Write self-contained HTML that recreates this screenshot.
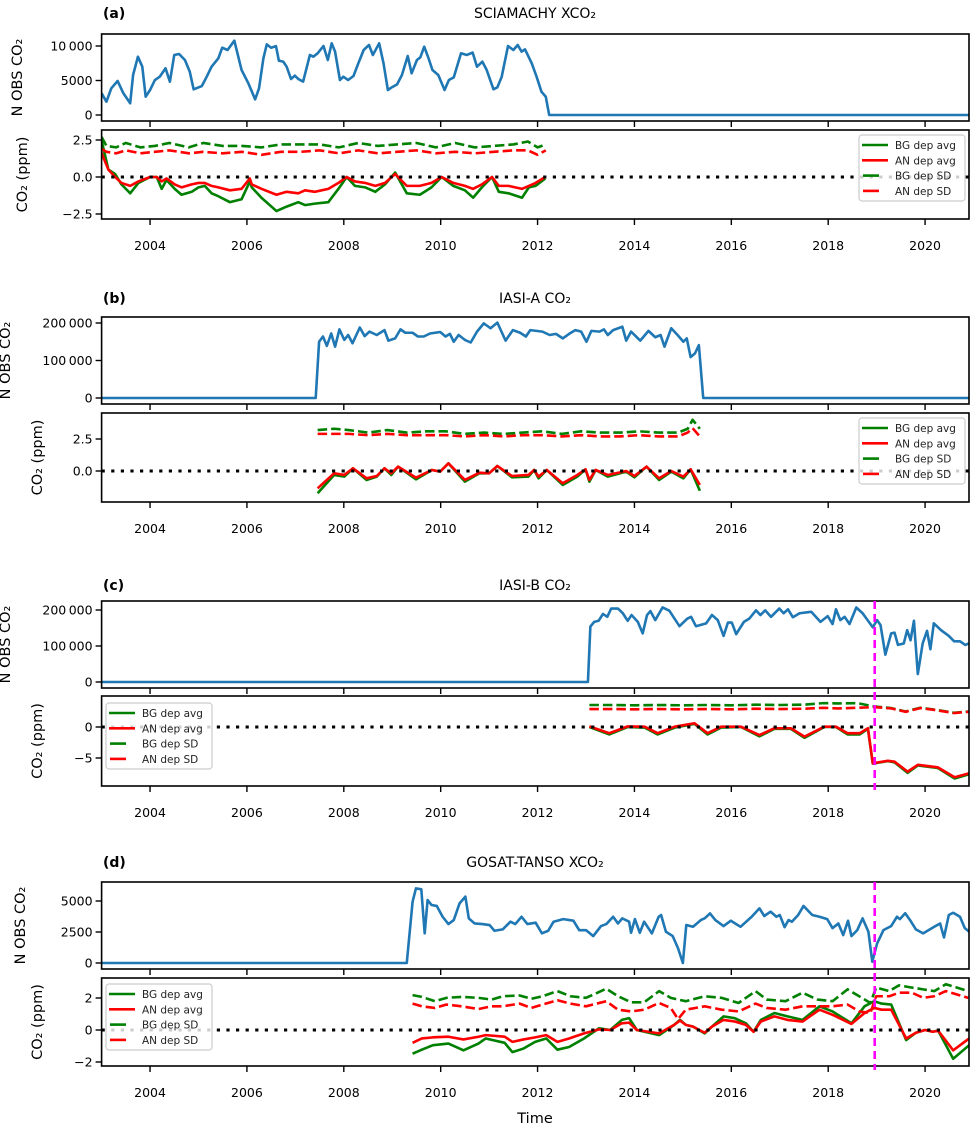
<!DOCTYPE html>
<html><head><meta charset="utf-8"><style>
html,body{margin:0;padding:0;background:#fff;}
svg{display:block;font-family:"DejaVu Sans","Liberation Sans",sans-serif;}
</style></head><body>
<svg id="fig" width="972" height="1125" viewBox="0 0 972 1125" xmlns="http://www.w3.org/2000/svg"></svg>
<script>
// ---------- data ----------
const yearTicks = [2004,2006,2008,2010,2012,2014,2016,2018,2020];
const panelLetters = ["(a)","(b)","(c)","(d)"];
const panelTitles = ["SCIAMACHY XCO₂","IASI-A CO₂","IASI-B CO₂","GOSAT-TANSO XCO₂"];
const legendLabels = ["BG dep avg","AN dep avg","BG dep SD","AN dep SD"];

// (a) SCIAMACHY
const aObsT = [2003.0,2003.1,2003.2,2003.33,2003.45,2003.59,2003.65,2003.75,2003.84,2003.91,2004.0,2004.1,2004.2,2004.32,2004.41,2004.5,2004.6,2004.72,2004.82,2004.9,2005.07,2005.17,2005.27,2005.41,2005.49,2005.6,2005.74,2005.89,2006.03,2006.17,2006.25,2006.34,2006.41,2006.5,2006.6,2006.66,2006.75,2006.82,2006.91,2006.99,2007.06,2007.16,2007.3,2007.37,2007.46,2007.58,2007.67,2007.75,2007.82,2007.92,2007.99,2008.09,2008.2,2008.3,2008.41,2008.52,2008.6,2008.73,2008.82,2008.91,2008.99,2009.1,2009.2,2009.32,2009.4,2009.51,2009.58,2009.66,2009.75,2009.83,2009.95,2010.08,2010.17,2010.27,2010.42,2010.54,2010.66,2010.75,2010.86,2010.95,2011.09,2011.17,2011.26,2011.39,2011.5,2011.59,2011.67,2011.74,2011.88,2011.98,2012.08,2012.17,2012.24,2021.0];
const aObsV = [3150,1930,3870,4930,3150,1700,5800,8450,7000,2650,3620,5070,5550,6770,4830,8700,8840,7970,6280,3720,4200,5550,7000,8210,9750,9420,10770,6520,4590,2270,3870,8210,10240,9750,9990,7870,7730,7000,5220,5700,5220,4830,8700,8450,8940,10000,7970,10390,9180,5070,5550,5070,5650,7490,9420,10150,8700,10390,7490,3620,4010,4440,5800,8550,6040,7970,8360,9900,8210,6520,5800,3620,5070,5460,8940,8700,9040,7000,7730,6520,3720,4010,5550,10000,9420,10150,9180,9520,7490,5550,3380,2650,0,0];
const aAvgT = [2002.99,2003.14,2003.28,2003.41,2003.59,2003.76,2004.0,2004.14,2004.24,2004.34,2004.51,2004.65,2004.86,2005.0,2005.13,2005.27,2005.41,2005.65,2005.89,2006.06,2006.1,2006.3,2006.61,2006.82,2007.06,2007.2,2007.4,2007.68,2007.89,2008.06,2008.23,2008.44,2008.65,2008.85,2009.06,2009.3,2009.57,2009.81,2010.02,2010.26,2010.5,2010.67,2010.85,2011.06,2011.2,2011.4,2011.68,2011.82,2011.96,2012.16];
const aBgAvg = [2.6,0.5,0.2,-0.5,-1.1,-0.4,0,0,-0.8,-0.2,-0.8,-1.2,-1.0,-0.7,-0.6,-1.1,-1.3,-1.7,-1.5,-0.3,-0.7,-1.4,-2.3,-2.0,-1.7,-1.9,-1.8,-1.7,-0.8,0,-0.6,-0.7,-1.0,-0.5,0.3,-1.1,-1.2,-0.7,0,-0.6,-0.9,-1.4,-0.7,0,-1.0,-1.1,-1.4,-0.7,-0.6,-0.1];
const aAnAvg = [1.7,0.5,0,-0.4,-0.6,-0.3,0,0,-0.3,-0.1,-0.5,-0.7,-0.5,-0.4,-0.4,-0.6,-0.7,-0.9,-0.8,-0.1,-0.5,-0.8,-1.2,-1.0,-1.1,-0.9,-1.0,-0.8,-0.4,0,-0.3,-0.4,-0.6,-0.4,0.2,-0.6,-0.6,-0.4,0,-0.4,-0.6,-0.8,-0.5,0,-0.6,-0.6,-0.8,-0.6,-0.4,0];
const aSdT = [2003.0,2003.1,2003.3,2003.5,2003.8,2004.1,2004.4,2004.8,2005.1,2005.5,2005.9,2006.3,2006.7,2007.1,2007.5,2007.9,2008.3,2008.7,2009.1,2009.5,2009.9,2010.3,2010.7,2011.1,2011.5,2011.8,2012.0,2012.17];
const aBgSd = [2.7,2.1,2.0,2.3,2.0,2.1,2.3,2.0,2.3,2.1,2.1,2.0,2.2,2.2,2.2,2.0,2.3,2.1,2.2,2.3,2.0,2.3,2.0,2.1,2.2,2.4,2.0,2.2];
const aAnSd = [1.9,1.7,1.6,1.8,1.6,1.7,1.8,1.6,1.7,1.6,1.7,1.5,1.7,1.7,1.8,1.6,1.8,1.6,1.7,1.8,1.6,1.7,1.6,1.7,1.8,1.8,1.5,1.8];

// (b) IASI-A
const bObsT = [2003.0,2007.42,2007.49,2007.57,2007.65,2007.74,2007.82,2007.91,2008.01,2008.09,2008.18,2008.33,2008.43,2008.53,2008.68,2008.84,2008.92,2009.06,2009.17,2009.27,2009.42,2009.53,2009.65,2009.78,2009.99,2010.1,2010.19,2010.27,2010.37,2010.5,2010.62,2010.75,2010.89,2011.03,2011.17,2011.34,2011.49,2011.64,2011.76,2011.85,2012.1,2012.25,2012.38,2012.52,2012.65,2012.78,2012.9,2013.01,2013.11,2013.28,2013.37,2013.45,2013.56,2013.75,2013.83,2013.93,2014.12,2014.29,2014.43,2014.54,2014.62,2014.76,2014.89,2015.01,2015.08,2015.16,2015.25,2015.33,2015.42,2021.0];
const bObsV = [0,0,150000,164000,139000,172000,137000,183000,155000,168000,146000,188000,165000,177000,168000,181000,153000,159000,183000,174000,174000,164000,164000,172000,176000,164000,171000,150000,168000,155000,148000,177000,199000,186000,201000,153000,181000,174000,164000,181000,177000,168000,171000,159000,171000,181000,177000,150000,179000,177000,183000,168000,181000,190000,153000,177000,153000,179000,162000,168000,137000,186000,168000,150000,159000,109000,119000,141000,0,0];
const bAvgT = [2007.46,2007.8,2008.01,2008.19,2008.47,2008.68,2008.84,2008.98,2009.12,2009.49,2009.82,2009.99,2010.16,2010.5,2010.8,2011.0,2011.17,2011.47,2011.81,2011.93,2012.02,2012.19,2012.52,2012.82,2012.99,2013.07,2013.2,2013.45,2013.83,2014.0,2014.25,2014.51,2014.76,2015.01,2015.16,2015.35];
const bBgAvg = [-1.74,-0.31,-0.44,0.21,-0.70,-0.44,0.21,-0.31,0.34,-0.65,0.08,-0.05,0.60,-0.83,-0.18,-0.18,0.39,-0.49,-0.44,0.08,-0.57,0.08,-1.09,-0.44,0.13,-0.83,0.08,-0.44,-0.05,-0.49,0.34,-0.70,-0.05,-0.57,0.13,-1.54];
const bAnAvg = [-1.35,-0.18,-0.31,0.21,-0.57,-0.39,0.21,-0.18,0.34,-0.52,0.08,-0.05,0.60,-0.70,-0.13,-0.18,0.39,-0.39,-0.31,0.08,-0.44,0.08,-0.96,-0.31,0.13,-0.70,0.08,-0.31,0,-0.39,0.34,-0.57,0,-0.44,0.13,-1.09];
const bSdT = [2007.46,2007.8,2008.1,2008.5,2008.9,2009.3,2009.7,2010.1,2010.5,2010.9,2011.3,2011.7,2012.1,2012.5,2012.9,2013.3,2013.7,2014.1,2014.5,2014.9,2015.1,2015.2,2015.35];
const bBgSd = [3.2,3.3,3.2,3.0,3.2,3.0,3.1,3.1,2.9,3.0,2.9,3.0,3.1,2.9,3.1,3.0,3.0,3.1,3.0,3.0,3.3,4.0,3.3];
const bAnSd = [2.9,2.9,2.9,2.8,2.9,2.8,2.8,2.8,2.7,2.8,2.7,2.8,2.8,2.7,2.8,2.7,2.7,2.8,2.7,2.7,3.0,3.35,2.7];

// (c) IASI-B
const cObsT = [2003.0,2013.04,2013.09,2013.17,2013.26,2013.35,2013.44,2013.52,2013.66,2013.76,2013.86,2013.94,2014.07,2014.17,2014.26,2014.33,2014.43,2014.58,2014.72,2014.93,2015.09,2015.17,2015.27,2015.48,2015.6,2015.72,2015.84,2015.93,2016.01,2016.1,2016.26,2016.37,2016.51,2016.6,2016.7,2016.82,2016.99,2017.08,2017.17,2017.27,2017.41,2017.65,2017.84,2017.99,2018.09,2018.16,2018.25,2018.34,2018.44,2018.58,2018.71,2018.92,2019.01,2019.08,2019.18,2019.3,2019.37,2019.44,2019.56,2019.63,2019.7,2019.77,2019.85,2019.95,2020.04,2020.11,2020.18,2020.33,2020.49,2020.6,2020.72,2020.83,2020.9];
const cObsV = [0,0,154000,167000,170000,189000,181000,204000,204000,191000,170000,186000,167000,135000,186000,197000,172000,207000,198000,155000,176000,181000,155000,163000,186000,172000,128000,165000,165000,133000,167000,176000,199000,186000,199000,181000,204000,191000,202000,180000,191000,195000,167000,183000,161000,202000,172000,181000,161000,207000,191000,152000,172000,158000,76000,135000,137000,103000,107000,144000,116000,170000,22000,107000,142000,91000,163000,144000,128000,113000,113000,103000,107000];
const cAvgT = [2013.07,2013.48,2013.86,2014.21,2014.48,2014.83,2015.24,2015.51,2015.79,2016.2,2016.58,2016.89,2017.23,2017.51,2017.92,2018.16,2018.4,2018.65,2018.82,2018.92,2019.23,2019.37,2019.64,2019.85,2020.26,2020.61,2020.92];
const cBgAvg = [0.0,-1.2,0.0,-0.1,-1.2,-0.1,0.5,-1.2,-0.1,0.0,-1.5,-0.3,-0.3,-1.75,0.0,0.0,-1.2,-1.2,-0.3,-5.9,-5.5,-5.7,-7.4,-6.2,-6.6,-8.3,-7.6];
const cAnAvg = [0.1,-1.0,0.1,0.05,-1.0,0.05,0.6,-1.0,0.05,0.05,-1.3,-0.2,-0.2,-1.55,0.05,0.05,-1.0,-1.0,-0.2,-5.85,-5.45,-5.6,-7.2,-6.1,-6.5,-8.1,-7.45];
const cSdT = [2013.07,2013.5,2014.0,2014.5,2015.0,2015.5,2016.0,2016.5,2017.0,2017.5,2017.9,2018.2,2018.6,2018.96,2019.3,2019.6,2019.9,2020.2,2020.6,2020.9];
const cBgSd = [3.55,3.55,3.5,3.55,3.5,3.55,3.5,3.6,3.55,3.6,3.85,3.8,3.85,3.3,3.05,2.5,3.1,2.8,2.3,2.5];
const cAnSd = [2.9,2.9,2.85,2.9,2.85,2.9,2.85,2.95,2.9,2.95,3.1,3.0,3.1,3.2,3.0,2.45,3.05,2.75,2.25,2.45];
const cMarkYear = [2018.96];

// (d) GOSAT-TANSO
const dObsT = [2003.0,2009.3,2009.42,2009.49,2009.6,2009.67,2009.73,2009.81,2009.92,2010.04,2010.16,2010.27,2010.39,2010.51,2010.58,2010.7,2010.86,2011.01,2011.11,2011.28,2011.44,2011.54,2011.67,2011.79,2011.96,2012.09,2012.22,2012.33,2012.53,2012.74,2012.86,2013.0,2013.15,2013.31,2013.42,2013.56,2013.66,2013.75,2013.89,2013.93,2014.01,2014.11,2014.2,2014.36,2014.5,2014.55,2014.65,2014.79,2014.9,2015.0,2015.07,2015.21,2015.37,2015.45,2015.56,2015.67,2015.84,2015.99,2016.19,2016.42,2016.58,2016.68,2016.81,2016.93,2017.0,2017.1,2017.18,2017.25,2017.38,2017.49,2017.67,2017.82,2017.98,2018.09,2018.21,2018.31,2018.41,2018.48,2018.6,2018.71,2018.83,2018.91,2019.01,2019.14,2019.3,2019.42,2019.48,2019.59,2019.69,2019.81,2019.96,2020.19,2020.31,2020.39,2020.49,2020.58,2020.72,2020.82,2020.91];
const dObsV = [0,0,4940,6020,5940,2390,5080,4680,4600,3730,3140,3460,4810,5350,3600,3190,3140,3060,2600,2710,3330,3140,3730,3140,3250,2390,2600,3330,3540,3410,2650,2650,2170,2980,3140,3730,3190,3600,3330,2440,3540,2440,3330,2390,3730,3870,2520,2170,1190,0,3060,2920,3460,3600,4000,3460,2980,3410,2920,3730,4410,3790,4140,3730,3870,2890,3460,3330,3870,4600,3870,3730,3540,2810,3190,2250,3410,2170,2650,3600,2520,100,1580,2650,2980,3730,3540,4010,3460,2710,2390,2920,3190,2060,3870,4050,3730,2810,2520];
const dAvgT = [2009.42,2009.61,2009.84,2010.16,2010.47,2010.78,2010.93,2011.32,2011.48,2011.71,2011.95,2012.18,2012.41,2012.65,2012.96,2013.27,2013.5,2013.74,2013.89,2014.05,2014.51,2014.82,2014.94,2015.06,2015.21,2015.45,2015.6,2015.84,2016.07,2016.3,2016.46,2016.61,2016.89,2017.16,2017.47,2017.82,2018.09,2018.48,2018.75,2018.95,2019.1,2019.3,2019.61,2019.81,2020.0,2020.16,2020.27,2020.58,2020.91];
const dBgAvg = [-1.48,-1.23,-0.95,-0.85,-1.27,-0.85,-0.53,-0.80,-1.38,-1.16,-0.74,-0.53,-1.23,-1.06,-0.53,0.11,0,0.63,0.74,0,-0.32,0.32,0.63,0.32,0.21,-0.21,0.21,0.85,0.74,0.42,-0.11,0.63,1.06,0.85,0.63,1.48,1.16,0.42,1.48,1.80,1.65,1.59,-0.63,-0.17,0,-0.11,-0.04,-1.80,-0.95];
const dAnAvg = [-0.80,-0.53,-0.46,-0.42,-0.59,-0.42,-0.32,-0.42,-0.74,-0.59,-0.46,-0.32,-0.74,-0.53,-0.21,0.04,0,0.42,0.46,0,-0.21,0.32,0.59,0.32,0.21,-0.17,0.21,0.63,0.53,0.32,-0.11,0.53,0.85,0.63,0.53,1.27,0.95,0.38,1.06,1.38,1.27,1.27,-0.53,-0.17,0,-0.11,-0.04,-1.27,-0.53];
const dSdT = [2009.42,2009.61,2009.88,2010.12,2010.43,2010.78,2011.05,2011.28,2011.63,2011.87,2012.1,2012.41,2012.68,2013.0,2013.42,2013.66,2013.93,2014.2,2014.51,2014.75,2014.9,2015.06,2015.45,2015.8,2016.15,2016.5,2016.73,2017.12,2017.47,2017.78,2018.09,2018.4,2018.64,2018.87,2018.99,2019.26,2019.46,2019.73,2019.96,2020.19,2020.43,2020.66,2020.89];
const dBgSd = [2.18,2.07,1.80,2.01,2.07,2.01,1.90,2.11,2.16,1.95,2.11,2.43,2.11,2.01,2.58,2.11,1.73,1.73,2.43,2.01,1.90,1.80,2.11,2.01,1.69,2.43,1.90,1.80,2.33,1.90,1.80,2.54,2.11,1.69,2.65,2.43,2.79,2.65,2.54,2.43,2.86,2.65,2.43];
const dAnSd = [1.65,1.48,1.38,1.59,1.48,1.31,1.48,1.48,1.65,1.38,1.59,1.86,1.65,1.48,1.80,1.27,1.16,1.27,1.69,1.38,0.68,1.27,1.48,1.27,1.16,1.65,1.38,1.27,1.48,1.48,1.48,1.59,1.16,1.06,2.11,2.11,2.33,2.33,2.01,2.11,2.43,2.22,2.01];
const dMarkYear = [2018.96];

// y tick values / labels
const aTopTicks = [0,5000,10000], aTopLabels = ["0","5000","10\u2009000"];
const aBotTicks = [-2.5,0,2.5], aBotLabels = ["\u22122.5","0.0","2.5"];
const bTopTicks = [0,100000,200000], bTopLabels = ["0","100\u2009000","200\u2009000"];
const bBotTicks = [0,2.5], bBotLabels = ["0.0","2.5"];
const cTopTicks = [0,100000,200000], cTopLabels = ["0","100\u2009000","200\u2009000"];
const cBotTicks = [-5,0], cBotLabels = ["\u22125","0"];
const dTopTicks = [0,2500,5000], dTopLabels = ["0","2500","5000"];
const dBotTicks = [-2,0,2], dBotLabels = ["\u22122","0","2"];

// ---------- drawing ----------
const NS = "http://www.w3.org/2000/svg";
const svg = document.getElementById("fig");
const X0 = 101.6, X1 = 969, YPX = 48.44;
function xs(yr){ return X0 + (yr - 2003) * YPX; }
function el(tag, attrs, parent){
  const e = document.createElementNS(NS, tag);
  for (const k in attrs) e.setAttribute(k, attrs[k]);
  (parent || svg).appendChild(e);
  return e;
}
function linScale(v0, p0, v1, p1){ return v => p0 + (v - v0) * (p1 - p0) / (v1 - v0); }

let clipId = 0;
function makeAxes(name, top, bottom){
  const g = el("g", {});
  
  
  const id = "clip" + (clipId++);
  const cp = el("clipPath", {id: id}, g);
  el("rect", {x: X0, y: top, width: X1 - X0, height: bottom - top}, cp);
  const plot = el("g", {"clip-path": "url(#" + id + ")"}, g);
  return {g, plot, top, bottom};
}
function drawFrame(ax, name){
  const r = el("rect", {x: X0, y: ax.top, width: X1 - X0, height: ax.bottom - ax.top, fill: "none", stroke: "#000", "stroke-width": 1.6}, ax.g);
  
  
}
function xTicks(ax, withLabels, name){
  const g = el("g", {}, ax.g);
  
  
  yearTicks.forEach(yr => {
    const x = xs(yr);
    el("line", {x1: x, x2: x, y1: ax.bottom, y2: ax.bottom + 6, stroke: "#000", "stroke-width": 1.4}, g);
    if (withLabels){
      const t = el("text", {x: x, y: ax.bottom + 31, "text-anchor": "middle", "font-size": 12.5, fill: "#000"}, g);
      t.textContent = String(yr);
    }
  });
}
function yTicks(ax, sc, ticks, labels, name){
  const g = el("g", {}, ax.g);
  
  
  ticks.forEach((v, i) => {
    const y = sc(v);
    el("line", {x1: X0 - 6, x2: X0, y1: y, y2: y, stroke: "#000", "stroke-width": 1.4}, g);
    const t = el("text", {x: X0 - 9, y: y + 4.5, "text-anchor": "end", "font-size": 12.5, fill: "#000"}, g);
    t.textContent = labels[i];
  });
}
function series(ax, sc, ts, vs, color, dash, name){
  const pts = ts.map((t, i) => xs(t).toFixed(2) + "," + sc(vs[i]).toFixed(2)).join(" ");
  const attrs = {points: pts, fill: "none", stroke: color, "stroke-width": 2.6, "stroke-linejoin": "round"};
  if (dash) attrs["stroke-dasharray"] = dash;
  const p = el("polyline", attrs, ax.plot);
  
  
}
function zeroLine(ax, sc, name){
  const y = sc(0);
  const l = el("line", {x1: X0, x2: X1, y1: y, y2: y, stroke: "#000", "stroke-width": 3, "stroke-dasharray": "3.2 6.4"}, ax.plot);
  
  
}
function ylabel(text, cx, cy, name){
  const t = el("text", {x: 0, y: 0, "text-anchor": "middle", "font-size": 14.5, fill: "#000", transform: "translate(" + cx + "," + cy + ") rotate(-90)"});
  t.textContent = text;
  
  
}
function legend(x, y, name){
  const g = el("g", {});
  
  
  el("rect", {x: x, y: y, width: 106, height: 66, rx: 3, fill: "#fff", "fill-opacity": 0.8, stroke: "#cccccc", "stroke-width": 1.2}, g);
  const cols = ["#008000", "#ff0000", "#008000", "#ff0000"];
  legendLabels.forEach((lab, i) => {
    const ry = y + 10 + i * 15.3;
    const e = el("g", {}, g);
    
    
    if (i < 2) el("line", {x1: x + 3, x2: x + 29, y1: ry, y2: ry, stroke: cols[i], "stroke-width": 2.6}, e);
    else { el("line", {x1: x + 4, x2: x + 20, y1: ry, y2: ry, stroke: cols[i], "stroke-width": 2.6}, e); }
    const t = el("text", {x: x + 36, y: ry + 4, "font-size": 10.5, fill: "#222"}, e);
    t.textContent = lab;
  });
}
function title(text, letter, y, name){
  const t = el("text", {x: 535, y: y + 5, "text-anchor": "middle", "font-size": 14, fill: "#000"});
  t.textContent = text;
  
  
  const l = el("text", {x: 103, y: y + 5, "font-size": 14, "font-weight": "bold", fill: "#000"});
  l.textContent = letter;
  
  
}
function markLine(yr, top, bottom, name){
  const x = xs(yr);
  const l = el("line", {x1: x, x2: x, y1: top, y2: bottom, stroke: "#ff00ff", "stroke-width": 2.6, "stroke-dasharray": "8 5"});
  
  
}

const panels = [
  {key:"a", top:[34,121], bot:[130,219], topSc:linScale(0,115,10000,46), botSc:linScale(0,177,2.5,140),
   tT:aTopTicks,tL:aTopLabels,bT:aBotTicks,bL:aBotLabels, obsT:aObsT, obsV:aObsV,
   avgT:aAvgT,bg:aBgAvg,an:aAnAvg,sdT:aSdT,bgSd:aBgSd,anSd:aAnSd, nx:22, cx:27, titleY:13, leg:[859,135]},
  {key:"b", top:[317,404], bot:[413,502], topSc:linScale(0,398,200000,323), botSc:linScale(0,471,2.5,439),
   tT:bTopTicks,tL:bTopLabels,bT:bBotTicks,bL:bBotLabels, obsT:bObsT, obsV:bObsV,
   avgT:bAvgT,bg:bBgAvg,an:bAnAvg,sdT:bSdT,bgSd:bBgSd,anSd:bAnSd, nx:10, cx:42, titleY:298, leg:[859,418]},
  {key:"c", top:[601,688], bot:[696,786], topSc:linScale(0,682,200000,610), botSc:linScale(0,727,-5,758),
   tT:cTopTicks,tL:cTopLabels,bT:cBotTicks,bL:cBotLabels, obsT:cObsT, obsV:cObsV,
   avgT:cAvgT,bg:cBgAvg,an:cAnAvg,sdT:cSdT,bgSd:cBgSd,anSd:cAnSd, nx:10, cx:42, titleY:585, leg:[106,703], mark:cMarkYear},
  {key:"d", top:[882,969], bot:[978,1066], topSc:linScale(0,963,5000,901), botSc:linScale(0,1030,2,998),
   tT:dTopTicks,tL:dTopLabels,bT:dBotTicks,bL:dBotLabels, obsT:dObsT, obsV:dObsV,
   avgT:dAvgT,bg:dBgAvg,an:dAnAvg,sdT:dSdT,bgSd:dBgSd,anSd:dAnSd, nx:25, cx:42, titleY:862, leg:[106,984], mark:dMarkYear}
];

panels.forEach((p, i) => {
  title(panelTitles[i], panelLetters[i], p.titleY, "panel-" + p.key);
  const axT = makeAxes("panel-" + p.key + "-nobs-axes", p.top[0], p.top[1]);
  series(axT, p.topSc, p.obsT, p.obsV, "#1f77b4", null, "panel-" + p.key + "-nobs-line");
  drawFrame(axT, "panel-" + p.key + "-nobs-frame");
  xTicks(axT, false, "panel-" + p.key + "-nobs-x-ticks");
  yTicks(axT, p.topSc, p.tT, p.tL, "panel-" + p.key + "-nobs-y-ticks");

  const axB = makeAxes("panel-" + p.key + "-co2-axes", p.bot[0], p.bot[1]);
  series(axB, p.botSc, p.avgT, p.bg, "#008000", null, "panel-" + p.key + "-bg-dep-avg");
  series(axB, p.botSc, p.avgT, p.an, "#ff0000", null, "panel-" + p.key + "-an-dep-avg");
  series(axB, p.botSc, p.sdT, p.bgSd, "#008000", "9.5 4", "panel-" + p.key + "-bg-dep-sd");
  series(axB, p.botSc, p.sdT, p.anSd, "#ff0000", "9.5 4", "panel-" + p.key + "-an-dep-sd");
  zeroLine(axB, p.botSc, "panel-" + p.key + "-zero-line");
  drawFrame(axB, "panel-" + p.key + "-co2-frame");
  xTicks(axB, true, "panel-" + p.key + "-x-axis");
  yTicks(axB, p.botSc, p.bT, p.bL, "panel-" + p.key + "-co2-y-ticks");

  if (p.mark) markLine(p.mark[0], p.top[0], p.bot[1] + 4, "panel-" + p.key + "-change-marker");
  legend(p.leg[0], p.leg[1], "panel-" + p.key + "-legend");
  ylabel("N OBS CO₂", p.nx, (p.top[0] + p.top[1]) / 2, "panel-" + p.key + "-nobs-y-title");
  ylabel("CO₂  (ppm)", p.cx, (p.bot[0] + p.bot[1]) / 2, "panel-" + p.key + "-co2-y-title");
});

const xt = el("text", {x: 535, y: 1123, "text-anchor": "middle", "font-size": 14.5, fill: "#000"});
xt.textContent = "Time";


</script>
</body></html>
